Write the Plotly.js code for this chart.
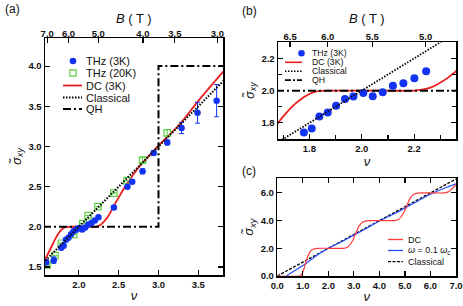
<!DOCTYPE html>
<html><head><meta charset="utf-8">
<script src="https://cdn.plot.ly/plotly-3.0.1.min.js"></script>
<style>html,body{margin:0;padding:0;background:#fff;}#chart{width:463px;height:306px;}</style>
</head><body><div id="chart"></div>
<script>
// ---- Data: panels (a) and (b) ----
const thz3_nu  = [1.59, 1.685, 1.779, 1.809, 1.838, 1.870, 1.902, 1.936, 1.968, 2.006, 2.042, 2.080, 2.119, 2.159, 2.201, 2.246, 2.44, 2.61, 2.67, 2.80, 2.94, 3.11, 3.29, 3.49, 3.73];
const thz3_val = [1.56, 1.585, 1.74, 1.765, 1.84, 1.865, 1.906, 1.948, 1.963, 1.985, 1.965, 1.99, 2.03, 2.046, 2.077, 2.12, 2.24, 2.50, 2.56, 2.69, 2.92, 3.05, 3.23, 3.42, 3.57];
const thz3_err = [0.03, 0.04, 0.01, 0.01, 0.01, 0.01, 0.01, 0.01, 0.01, 0.01, 0.01, 0.01, 0.01, 0.01, 0.01, 0.01, 0.015, 0.015, 0.02, 0.03, 0.03, 0.03, 0.07, 0.13, 0.2];
const thz20_nu  = [1.60, 1.70, 1.78, 1.935, 2.05, 2.116, 2.24, 2.44, 2.605, 2.80, 3.11];
const thz20_val = [1.525, 1.64, 1.795, 1.905, 2.04, 2.14, 2.25, 2.42, 2.575, 2.83, 3.17];
const thz20_err = [0, 0, 0, 0, 0, 0, 0, 0, 0, 0.03, 0.04];
const dc_nu  = [1.58, 1.62, 1.666, 1.70, 1.74, 1.777, 1.82, 1.90, 2.00, 2.10, 2.20, 2.25, 2.29, 2.36, 2.45, 2.60, 2.76, 2.97, 3.26, 3.51, 3.82];
const dc_val = [1.60, 1.68, 1.77, 1.84, 1.91, 1.958, 1.993, 2.0, 2.0, 2.0, 2.0, 2.012, 2.04, 2.12, 2.28, 2.53, 2.75, 2.98, 3.27, 3.58, 3.94];
const classical_nu  = [1.5, 4.0];
const classical_val = [1.5, 4.0];
const qh_nu  = [1.55, 3.0, 3.0, 3.9];
const qh_val = [2.0, 2.0, 4.0, 4.0];
const bTicksA = [7.0, 6.0, 5.0, 4.0, 3.5, 3.0];
const bTicksB = [6.5, 6.0, 5.5, 5.0];
const nuTimesB = 11.22; // filling factor x field (T)

// ---- Data: panel (c) ----
const dcC_nu  = [0.0, 0.85, 0.95, 1.05, 1.12, 1.2, 1.3, 1.45, 1.6, 2.0, 2.6, 2.75, 2.9, 3.0, 3.1, 3.2, 3.35, 3.5, 3.7, 4.0, 4.6, 4.75, 4.9, 5.0, 5.1, 5.2, 5.35, 5.5, 5.7, 6.0, 6.55, 6.7, 6.85, 7.0];
const dcC_val = [0.0, 0.0, 0.1, 0.55, 1.0, 1.45, 1.8, 1.97, 2.0, 2.0, 2.0, 2.07, 2.4, 2.75, 3.2, 3.6, 3.9, 3.98, 4.0, 4.0, 4.0, 4.07, 4.4, 4.75, 5.2, 5.6, 5.9, 5.98, 6.0, 6.0, 6.0, 6.07, 6.3, 6.6];
const acC_nu  = [0.35, 0.7, 1.0, 1.3, 1.6, 2.0, 2.5, 3.0, 3.5, 4.0, 4.5, 5.0, 5.5, 6.0, 6.5, 7.0];
const acC_val = [0.0, 0.42, 0.75, 1.15, 1.55, 2.0, 2.45, 2.95, 3.45, 3.97, 4.42, 4.9, 5.4, 5.9, 6.3, 6.65];
const clC_nu  = [0.0, 7.0];
const clC_val = [0.0, 7.0];

const W = 463, H = 306;
const px = v => v / W, py = v => 1 - v / H;
const BLUE = '#1234f2', GREEN = '#5ccf44', RED = '#ec1c1c';
const FONT = 'Liberation Sans, Arial, DejaVu Sans, sans-serif';

const traces = [
  // (a)
  {x: dc_nu, y: dc_val, xaxis: 'x', yaxis: 'y', mode: 'lines', line: {color: RED, width: 1.8, shape: 'spline'}},
  // classical drawn against the top (B) axis, which shares the same nu range
  {x: classical_nu, y: classical_val, xaxis: 'x4', yaxis: 'y', mode: 'lines', line: {color: '#000', width: 2, dash: '1.5px,1.5px'}},
  {x: qh_nu, y: qh_val, xaxis: 'x', yaxis: 'y', mode: 'lines', line: {color: '#000', width: 2, dash: '8px,3px,2px,3px'}},
  {x: thz20_nu, y: thz20_val, xaxis: 'x', yaxis: 'y', mode: 'markers',
   marker: {symbol: 'square-open', size: 6.5, color: GREEN, line: {width: 1.2, color: GREEN}},
   error_y: {type: 'data', array: thz20_err, color: GREEN, thickness: 1, width: 2.5}},
  {x: thz3_nu, y: thz3_val, xaxis: 'x', yaxis: 'y', mode: 'markers',
   marker: {symbol: 'circle', size: 6.5, color: BLUE},
   error_y: {type: 'data', array: thz3_err, color: BLUE, thickness: 1, width: 2.5}},
  // (b)
  {x: dc_nu, y: dc_val, xaxis: 'x2', yaxis: 'y2', mode: 'lines', line: {color: RED, width: 1.8, shape: 'spline'}},
  {x: classical_nu, y: classical_val, xaxis: 'x5', yaxis: 'y2', mode: 'lines', line: {color: '#000', width: 1.8, dash: '1.5px,1.5px'}},
  {x: qh_nu, y: qh_val, xaxis: 'x2', yaxis: 'y2', mode: 'lines', line: {color: '#000', width: 2, dash: '8px,3px,2px,3px'}},
  {x: thz3_nu, y: thz3_val, xaxis: 'x2', yaxis: 'y2', mode: 'markers', marker: {symbol: 'circle', size: 8, color: BLUE}},
  // (c)
  {x: clC_nu, y: clC_val, xaxis: 'x3', yaxis: 'y3', mode: 'lines', line: {color: '#000', width: 1.3, dash: '3px,1.5px'}},
  {x: acC_nu, y: acC_val, xaxis: 'x3', yaxis: 'y3', mode: 'lines', line: {color: '#2a50ff', width: 1.2, shape: 'spline'}},
  {x: dcC_nu, y: dcC_val, xaxis: 'x3', yaxis: 'y3', mode: 'lines', line: {color: '#ff3a3a', width: 1.2, shape: 'spline', smoothing: 0.8}}
];

const axBase = {showline: true, linecolor: '#000', linewidth: 1.5, ticks: 'inside', ticklen: 5, tickwidth: 1.2,
  tickcolor: '#000', showgrid: false, zeroline: false, tickfont: {family: FONT, size: 9.5, color: '#111', weight: 'bold'}};
const ttl = (t, s, st) => ({text: t, font: {family: FONT, size: s, color: '#111', style: 'italic'}, standoff: st});
const SIG = 'σ̃<sub>xy</sub>';

const layout = {
  width: W, height: H, margin: {l: 0, r: 0, t: 0, b: 0}, showlegend: false,
  paper_bgcolor: '#fff', plot_bgcolor: '#fff', font: {family: FONT, size: 10, color: '#111'},
  xaxis: Object.assign({}, axBase, {domain: [px(45), px(223)], range: [1.575, 3.81], anchor: 'y',
    tickvals: [2.0, 2.5, 3.0, 3.5], tickformat: '.1f', title: ttl('ν', 13, 2)}),
  xaxis4: Object.assign({}, axBase, {domain: [px(45), px(223)], range: [1.575, 3.81], anchor: 'y', overlaying: 'x', side: 'top',
    ticklabelstandoff: -4,
    tickvals: bTicksA.map(b => nuTimesB / b), ticktext: bTicksA.map(b => b.toFixed(1))}),
  yaxis: Object.assign({}, axBase, {domain: [py(275), py(38)], range: [1.4, 4.35], anchor: 'x', mirror: 'ticks',
    tickvals: [1.5, 2.0, 2.5, 3.0, 3.5, 4.0], tickformat: '.1f', title: ttl(SIG, 13, 4)}),
  xaxis2: Object.assign({}, axBase, {domain: [px(278), px(456)], range: [1.68, 2.36], anchor: 'y2',
    tickvals: [1.8, 2.0, 2.2], tickformat: '.1f', minor: {dtick: 0.1, tick0: 1.8, ticks: 'inside', ticklen: 4, tickcolor: '#000'},
    title: ttl('ν', 13, 2)}),
  xaxis5: Object.assign({}, axBase, {domain: [px(278), px(456)], range: [1.68, 2.36], anchor: 'y2', overlaying: 'x2', side: 'top',
    ticklabelstandoff: -3,
    tickvals: bTicksB.map(b => nuTimesB / b), ticktext: bTicksB.map(b => b.toFixed(1))}),
  yaxis2: Object.assign({}, axBase, {domain: [py(139), py(42.3)], range: [1.7, 2.3], anchor: 'x2', mirror: 'ticks',
    tickvals: [1.8, 2.0, 2.2], tickformat: '.1f', minor: {dtick: 0.1, tick0: 1.8, ticks: 'inside', ticklen: 4, tickcolor: '#000'},
    title: ttl(SIG, 13, 4)}),
  xaxis3: Object.assign({}, axBase, {domain: [px(277.3), px(456)], range: [0, 7], anchor: 'y3', mirror: 'ticks',
    dtick: 1, tick0: 0, tickformat: '.1f', title: ttl('ν', 13, 2)}),
  yaxis3: Object.assign({}, axBase, {domain: [py(276), py(178.3)], range: [0, 7.05], anchor: 'x3', mirror: 'ticks',
    tickvals: [0, 2, 4, 6], tickformat: '.1f', title: ttl(SIG, 13, 4)}),
  shapes: [],
  annotations: []
};

// panel labels and the B-axis titles
[['(a)', 3, 9, 'left', 12], ['(b)', 240, 11, 'left', 12], ['(c)', 240, 171, 'left', 12],
 ['<i>B</i> ( T )', 134, 18.5, 'center', 13], ['<i>B</i> ( T )', 367, 18, 'center', 13]].forEach(([t, x, y, xa, s]) => layout.annotations.push(
  {text: t, xref: 'paper', yref: 'paper', x: px(x), y: py(y), xanchor: xa, yanchor: 'middle', showarrow: false,
   font: {family: FONT, size: s, color: '#111'}}));

// compact legends (drawn with shapes + text)
function legLine(x0, x1, y, color, width, dash) {
  layout.shapes.push({type: 'line', xref: 'paper', yref: 'paper', x0: px(x0), x1: px(x1), y0: py(y), y1: py(y),
    line: {color: color, width: width, dash: dash}});
}
function legMarker(type, x, y, r, fill, lc) {
  layout.shapes.push({type: type, xref: 'paper', yref: 'paper', xsizemode: 'pixel', ysizemode: 'pixel',
    xanchor: px(x), yanchor: py(y), x0: -r, x1: r, y0: -r, y1: r, fillcolor: fill, line: {color: lc, width: fill === 'rgba(0,0,0,0)' ? 1.2 : 0}});
}
function legText(t, x, y, s) {
  layout.annotations.push({text: t, xref: 'paper', yref: 'paper', x: px(x), y: py(y), xanchor: 'left', yanchor: 'middle',
    showarrow: false, font: {family: FONT, size: s, color: '#111'}});
}
// (a)
legMarker('circle', 73, 61, 3.3, BLUE, BLUE); legText('THz (3K)', 84, 61, 11);
legMarker('rect', 73, 73, 3.2, 'rgba(0,0,0,0)', GREEN); legText('THz (20K)', 84, 73, 11);
legLine(63, 82, 85.5, RED, 1.8, 'solid'); legText('DC (3K)', 84, 85.5, 11);
legLine(63, 82, 97.5, '#000', 2, '1.5px,1.5px'); legText('Classical', 84, 97.5, 11);
legLine(63, 82, 109, '#000', 2, '8px,3px,2px,3px'); legText('QH', 84, 109, 11);
// (b)
legMarker('circle', 301.5, 53.3, 3.3, BLUE, BLUE); legText('THz (3K)', 310, 53.3, 8.7);
legLine(285, 302, 62.3, RED, 1.6, 'solid'); legText('DC (3K)', 310, 62.3, 8.7);
legLine(285, 302, 71.2, '#000', 1.6, '1.5px,1.5px'); legText('Classical', 310, 71.2, 8.7);
legLine(285, 302, 80.2, '#000', 1.8, '6px,2px,2px,2px'); legText('QH', 310, 80.2, 8.7);
// (c)
legLine(388, 403, 239.5, '#ff3a3a', 1.3, 'solid'); legText('DC', 406, 239.5, 9);
legLine(388, 403, 250.5, '#2a50ff', 1.3, 'solid'); legText('<i>ω</i> = 0.1 <i>ω</i><sub>c</sub>', 406, 250.5, 9);
legLine(388, 403, 261.7, '#000', 1.3, '3px,1.5px'); legText('Classical', 406, 261.7, 9);

Plotly.newPlot('chart', traces, layout, {staticPlot: true, displayModeBar: false});
</script></body></html>
